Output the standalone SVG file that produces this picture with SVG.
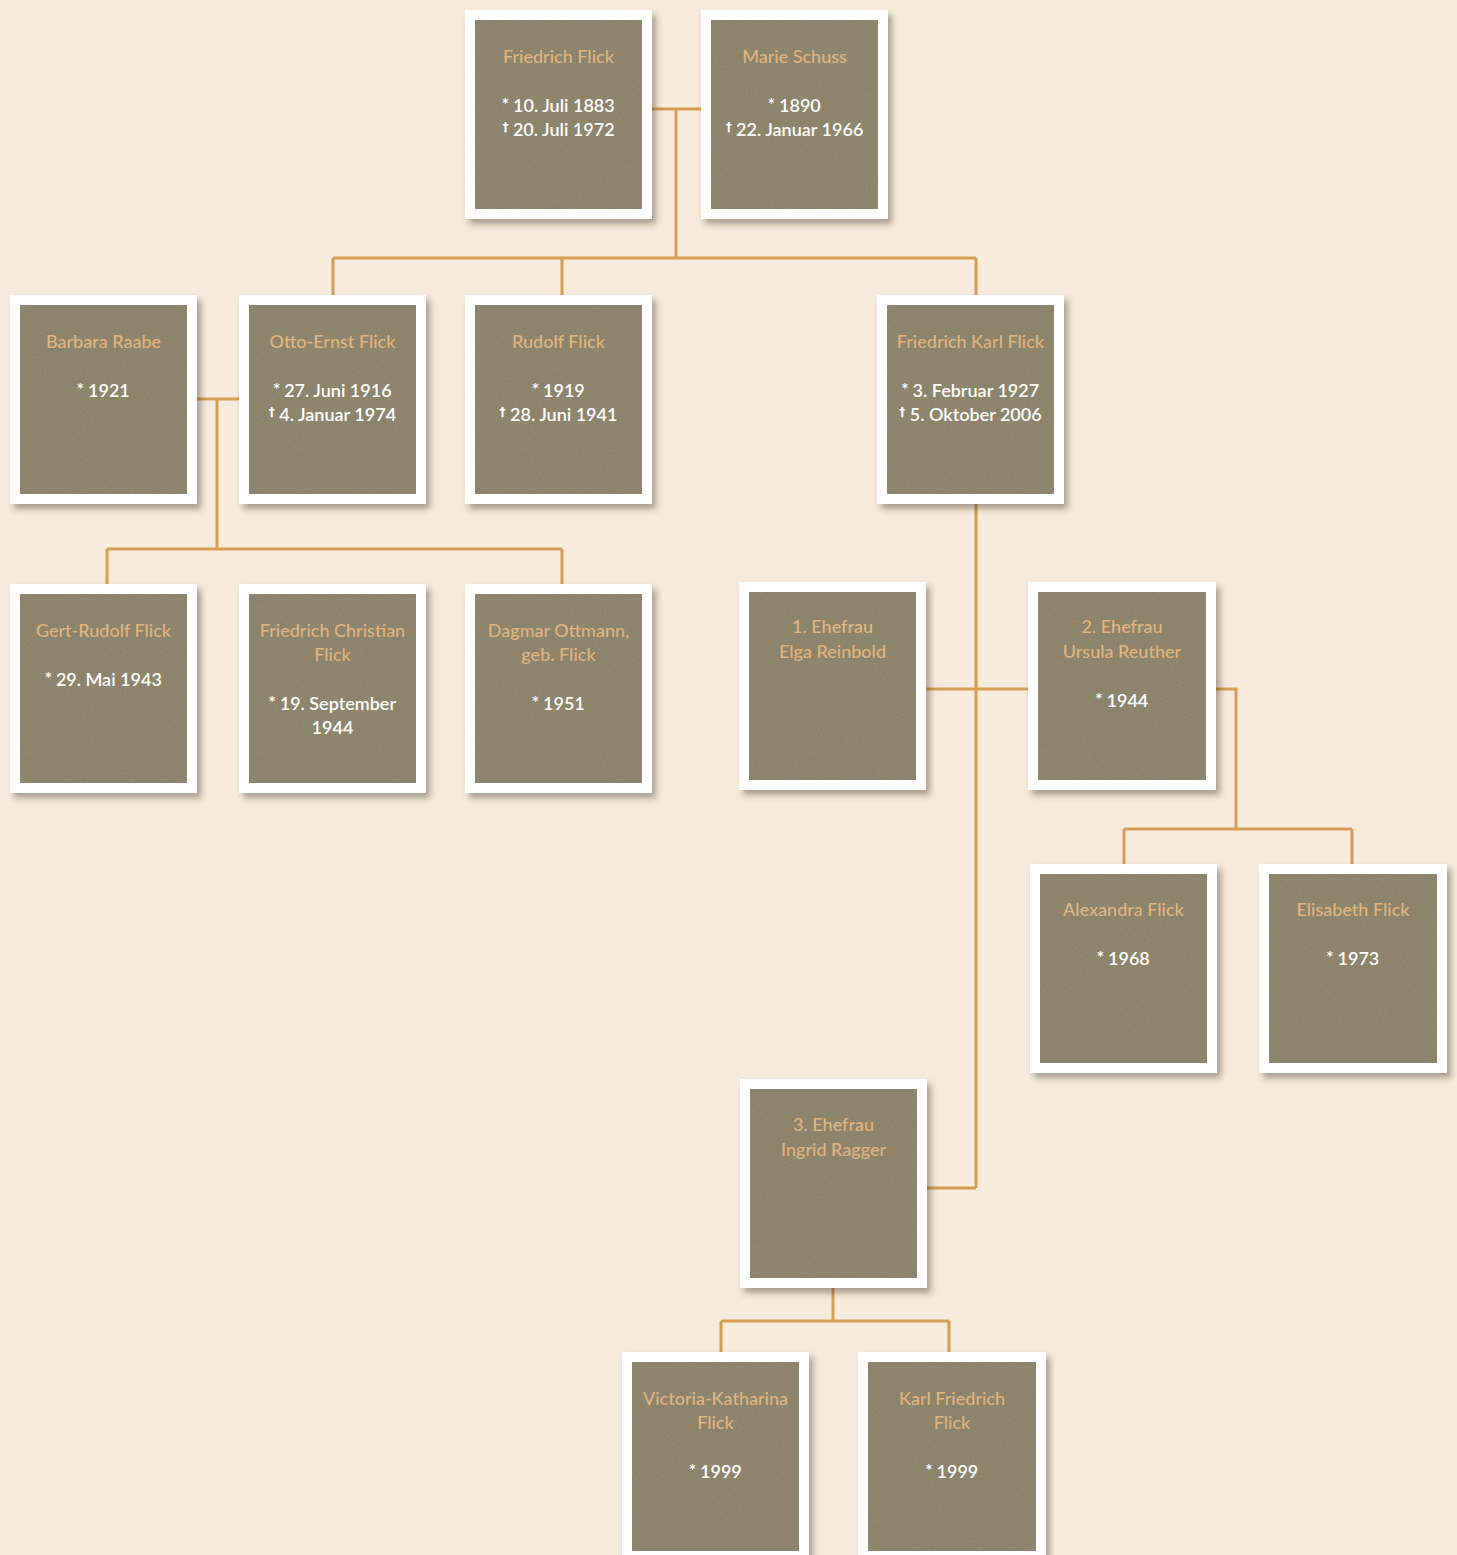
<svg xmlns="http://www.w3.org/2000/svg" width="1457" height="1555" viewBox="0 0 1457 1555">
<defs>
<style>
.frame{fill:#ffffff;filter:url(#shadow)}
.card{fill:#8a8268;filter:url(#paper)}
.name{font-family:Lato,"Liberation Sans",sans-serif;font-size:18px;font-weight:500;fill:#e2b57e;text-anchor:middle}
.date{font-family:Lato,"Liberation Sans",sans-serif;font-size:18px;font-weight:600;fill:#ffffff;text-anchor:middle}
.sym{font-family:"DejaVu Sans",sans-serif;font-size:12px;font-weight:700}
.conn{fill:none;stroke:#d69d52;stroke-width:3}
</style>
<filter id="shadow" x="-10%" y="-10%" width="130%" height="130%">
<feDropShadow dx="4" dy="5" stdDeviation="3" flood-color="#3a2c1c" flood-opacity="0.4"/>
</filter>
<filter id="paper" x="0" y="0" width="100%" height="100%">
<feTurbulence type="fractalNoise" baseFrequency="0.7" numOctaves="2" seed="4" result="n"/>
<feColorMatrix in="n" type="matrix" values="0 0 0 0 0.36  0 0 0 0 0.33  0 0 0 0 0.26  0 0 0 0.5 -0.12" result="dots"/>
<feComposite in="dots" in2="SourceGraphic" operator="in" result="d2"/>
<feMerge><feMergeNode in="SourceGraphic"/><feMergeNode in="d2"/></feMerge>
</filter>
</defs>
<rect width="1457" height="1555" fill="#f6ebdc"/>
<g id="connectors" class="conn">
<path d="M652,109H701 M676,109V258 M333,258H976 M333,258V295 M562,258V295 M976,258V295"/>
<path d="M197,399H239 M217,399V549 M107,549H562 M107,549V584 M562,549V584"/>
<path d="M976,504V1188 M926,689H1028 M927,1188H976"/>
<path d="M1216,689H1236V829 M1124,829H1352 M1124,829V864 M1352,829V864"/>
<path d="M833,1288V1321 M721,1321H949 M721,1321V1352 M949,1321V1352"/>
</g>

<g id="friedrich-flick" transform="translate(465,10)">
<rect class="frame" width="187" height="209"/><rect class="card" x="10" y="10" width="167" height="189"/>
<text class="name" x="93.5" y="53">Friedrich Flick</text>
<text class="date" x="93.5" y="102"><tspan class="sym" dy="-5">*</tspan><tspan dy="5"> 10. Juli 1883</tspan></text>
<text class="date" x="93.5" y="126"><tspan class="sym" dy="-5">†</tspan><tspan dy="5"> 20. Juli 1972</tspan></text>
</g>
<g id="marie-schuss" transform="translate(701,10)">
<rect class="frame" width="187" height="209"/><rect class="card" x="10" y="10" width="167" height="189"/>
<text class="name" x="93.5" y="53">Marie Schuss</text>
<text class="date" x="93.5" y="102"><tspan class="sym" dy="-5">*</tspan><tspan dy="5"> 1890</tspan></text>
<text class="date" x="93.5" y="126"><tspan class="sym" dy="-5">†</tspan><tspan dy="5"> 22. Januar 1966</tspan></text>
</g>

<g id="barbara-raabe" transform="translate(10,295)">
<rect class="frame" width="187" height="209"/><rect class="card" x="10" y="10" width="167" height="189"/>
<text class="name" x="93.5" y="53">Barbara Raabe</text>
<text class="date" x="93.5" y="102"><tspan class="sym" dy="-5">*</tspan><tspan dy="5"> 1921</tspan></text>
</g>
<g id="otto-ernst-flick" transform="translate(239,295)">
<rect class="frame" width="187" height="209"/><rect class="card" x="10" y="10" width="167" height="189"/>
<text class="name" x="93.5" y="53">Otto-Ernst Flick</text>
<text class="date" x="93.5" y="102"><tspan class="sym" dy="-5">*</tspan><tspan dy="5"> 27. Juni 1916</tspan></text>
<text class="date" x="93.5" y="126"><tspan class="sym" dy="-5">†</tspan><tspan dy="5"> 4. Januar 1974</tspan></text>
</g>
<g id="rudolf-flick" transform="translate(465,295)">
<rect class="frame" width="187" height="209"/><rect class="card" x="10" y="10" width="167" height="189"/>
<text class="name" x="93.5" y="53">Rudolf Flick</text>
<text class="date" x="93.5" y="102"><tspan class="sym" dy="-5">*</tspan><tspan dy="5"> 1919</tspan></text>
<text class="date" x="93.5" y="126"><tspan class="sym" dy="-5">†</tspan><tspan dy="5"> 28. Juni 1941</tspan></text>
</g>
<g id="friedrich-karl-flick" transform="translate(877,295)">
<rect class="frame" width="187" height="209"/><rect class="card" x="10" y="10" width="167" height="189"/>
<text class="name" x="93.5" y="53">Friedrich Karl Flick</text>
<text class="date" x="93.5" y="102"><tspan class="sym" dy="-5">*</tspan><tspan dy="5"> 3. Februar 1927</tspan></text>
<text class="date" x="93.5" y="126"><tspan class="sym" dy="-5">†</tspan><tspan dy="5"> 5. Oktober 2006</tspan></text>
</g>

<g id="gert-rudolf-flick" transform="translate(10,584)">
<rect class="frame" width="187" height="209"/><rect class="card" x="10" y="10" width="167" height="189"/>
<text class="name" x="93.5" y="53">Gert-Rudolf Flick</text>
<text class="date" x="93.5" y="102"><tspan class="sym" dy="-5">*</tspan><tspan dy="5"> 29. Mai 1943</tspan></text>
</g>
<g id="friedrich-christian-flick" transform="translate(239,584)">
<rect class="frame" width="187" height="209"/><rect class="card" x="10" y="10" width="167" height="189"/>
<text class="name" x="93.5" y="53">Friedrich Christian</text>
<text class="name" x="93.5" y="77">Flick</text>
<text class="date" x="93.5" y="126"><tspan class="sym" dy="-5">*</tspan><tspan dy="5"> 19. September</tspan></text>
<text class="date" x="93.5" y="150">1944</text>
</g>
<g id="dagmar-ottmann" transform="translate(465,584)">
<rect class="frame" width="187" height="209"/><rect class="card" x="10" y="10" width="167" height="189"/>
<text class="name" x="93.5" y="53">Dagmar Ottmann,</text>
<text class="name" x="93.5" y="77">geb. Flick</text>
<text class="date" x="93.5" y="126"><tspan class="sym" dy="-5">*</tspan><tspan dy="5"> 1951</tspan></text>
</g>

<g id="elga-reinbold" transform="translate(739,582)">
<rect class="frame" width="187" height="208"/><rect class="card" x="10" y="10" width="167" height="188"/>
<text class="name" x="93.5" y="51">1. Ehefrau</text>
<text class="name" x="93.5" y="76">Elga Reinbold</text>
</g>
<g id="ursula-reuther" transform="translate(1028,582)">
<rect class="frame" width="188" height="208"/><rect class="card" x="10" y="10" width="168" height="188"/>
<text class="name" x="94" y="51">2. Ehefrau</text>
<text class="name" x="94" y="76">Ursula Reuther</text>
<text class="date" x="94" y="125"><tspan class="sym" dy="-5">*</tspan><tspan dy="5"> 1944</tspan></text>
</g>

<g id="alexandra-flick" transform="translate(1030,864)">
<rect class="frame" width="187" height="209"/><rect class="card" x="10" y="10" width="167" height="189"/>
<text class="name" x="93.5" y="52">Alexandra Flick</text>
<text class="date" x="93.5" y="101"><tspan class="sym" dy="-5">*</tspan><tspan dy="5"> 1968</tspan></text>
</g>
<g id="elisabeth-flick" transform="translate(1259,864)">
<rect class="frame" width="188" height="209"/><rect class="card" x="10" y="10" width="168" height="189"/>
<text class="name" x="94" y="52">Elisabeth Flick</text>
<text class="date" x="94" y="101"><tspan class="sym" dy="-5">*</tspan><tspan dy="5"> 1973</tspan></text>
</g>

<g id="ingrid-ragger" transform="translate(740,1079)">
<rect class="frame" width="187" height="209"/><rect class="card" x="10" y="10" width="167" height="189"/>
<text class="name" x="93.5" y="52">3. Ehefrau</text>
<text class="name" x="93.5" y="77">Ingrid Ragger</text>
</g>

<g id="victoria-katharina-flick" transform="translate(622,1352)">
<rect class="frame" width="187" height="209"/><rect class="card" x="10" y="10" width="167" height="189"/>
<text class="name" x="93.5" y="53">Victoria-Katharina</text>
<text class="name" x="93.5" y="77">Flick</text>
<text class="date" x="93.5" y="126"><tspan class="sym" dy="-5">*</tspan><tspan dy="5"> 1999</tspan></text>
</g>
<g id="karl-friedrich-flick" transform="translate(858,1352)">
<rect class="frame" width="188" height="209"/><rect class="card" x="10" y="10" width="168" height="189"/>
<text class="name" x="94" y="53">Karl Friedrich</text>
<text class="name" x="94" y="77">Flick</text>
<text class="date" x="94" y="126"><tspan class="sym" dy="-5">*</tspan><tspan dy="5"> 1999</tspan></text>
</g>
</svg>
